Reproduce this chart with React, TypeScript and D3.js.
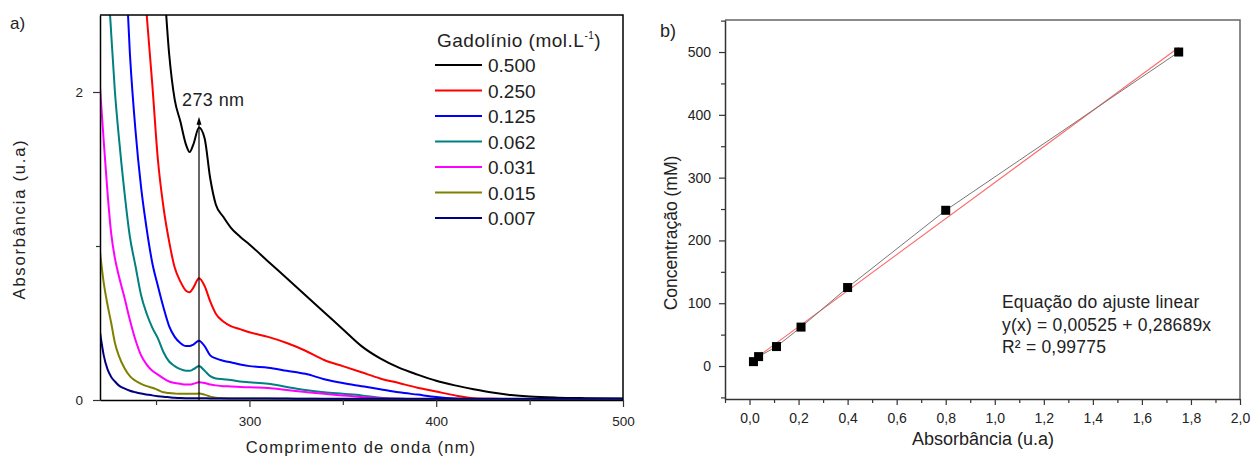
import * as d3 from 'd3';
import React, { useRef, useEffect } from 'react';

// wavelength grid (nm) shared by all spectra
const wavelengths = [220, 222, 224, 226, 228, 230, 233, 236, 239, 242, 245, 248, 251, 254, 257, 260, 263, 266, 268, 270, 273, 276, 279, 282, 286, 290, 295, 300, 310, 320, 330, 340, 350, 360, 370, 380, 390, 400, 410, 420, 430, 440, 450, 465, 480, 500];

const abs0500 = [4, 4, 4, 4, 4, 4, 4, 4, 4, 4, 4, 3.6, 3.2, 2.75, 2.25, 1.95, 1.81, 1.66, 1.61, 1.66, 1.77, 1.70, 1.44, 1.27, 1.19, 1.12, 1.06, 1.01, 0.90, 0.79, 0.68, 0.57, 0.46, 0.35, 0.27, 0.21, 0.165, 0.125, 0.095, 0.07, 0.048, 0.032, 0.022, 0.015, 0.012, 0.01];
const abs0250 = [4, 4, 4, 4, 4, 4, 4, 4, 3.5, 3.0, 2.5, 2.05, 1.56, 1.25, 1.03, 0.86, 0.77, 0.71, 0.70, 0.73, 0.79, 0.74, 0.64, 0.56, 0.51, 0.48, 0.46, 0.44, 0.41, 0.37, 0.32, 0.26, 0.22, 0.18, 0.14, 0.11, 0.08, 0.055, 0.03, 0.012, 0.008, 0.006, 0.005, 0.005, 0.005, 0.005];
const abs0125 = [4, 4, 4, 4, 4, 4, 3.0, 2.25, 1.75, 1.38, 1.11, 0.89, 0.74, 0.60, 0.48, 0.41, 0.37, 0.35, 0.35, 0.36, 0.385, 0.35, 0.29, 0.27, 0.255, 0.245, 0.23, 0.22, 0.21, 0.19, 0.17, 0.135, 0.11, 0.09, 0.07, 0.05, 0.035, 0.02, 0.01, 0.006, 0.006, 0.006, 0.006, 0.006, 0.006, 0.006];
const abs0062 = [4, 3.4, 2.8, 2.38, 2.0, 1.72, 1.36, 1.06, 0.87, 0.68, 0.56, 0.47, 0.40, 0.31, 0.25, 0.22, 0.20, 0.19, 0.19, 0.20, 0.22, 0.19, 0.155, 0.14, 0.135, 0.13, 0.12, 0.115, 0.105, 0.085, 0.065, 0.05, 0.04, 0.03, 0.015, 0.008, 0.006, 0.006, 0.006, 0.006, 0.006, 0.006, 0.006, 0.006, 0.006, 0.006];
const abs0031 = [2.03, 1.68, 1.35, 1.08, 0.92, 0.81, 0.67, 0.52, 0.39, 0.29, 0.23, 0.19, 0.165, 0.14, 0.12, 0.11, 0.105, 0.10, 0.10, 0.105, 0.115, 0.11, 0.10, 0.095, 0.09, 0.088, 0.085, 0.082, 0.078, 0.065, 0.052, 0.04, 0.03, 0.02, 0.012, 0.008, 0.006, 0.006, 0.006, 0.006, 0.006, 0.006, 0.006, 0.006, 0.006, 0.006];
const abs0015 = [0.96, 0.76, 0.62, 0.50, 0.37, 0.29, 0.21, 0.155, 0.125, 0.105, 0.09, 0.08, 0.065, 0.05, 0.045, 0.042, 0.04, 0.04, 0.04, 0.04, 0.042, 0.035, 0.022, 0.015, 0.012, 0.01, 0.01, 0.01, 0.009, 0.008, 0.008, 0.007, 0.007, 0.006, 0.006, 0.006, 0.005, 0.005, 0.005, 0.005, 0.005, 0.005, 0.005, 0.005, 0.005, 0.005];
const abs0007 = [0.44, 0.29, 0.2, 0.15, 0.12, 0.095, 0.075, 0.06, 0.05, 0.042, 0.036, 0.03, 0.025, 0.021, 0.018, 0.015, 0.013, 0.012, 0.012, 0.012, 0.012, 0.011, 0.01, 0.01, 0.01, 0.01, 0.01, 0.01, 0.009, 0.009, 0.008, 0.008, 0.008, 0.008, 0.008, 0.008, 0.008, 0.008, 0.008, 0.008, 0.008, 0.008, 0.008, 0.008, 0.008, 0.008];

const seriesLabels = ['0.500', '0.250', '0.125', '0.062', '0.031', '0.015', '0.007'];
const seriesColors = ['#000000', '#ff0000', '#0000ff', '#008080', '#ff00ff', '#808000', '#000080'];
const seriesValues = [abs0500, abs0250, abs0125, abs0062, abs0031, abs0015, abs0007];

// calibration points (panel b)
const calAbsorbance = [0.016, 0.037, 0.11, 0.21, 0.40, 0.80, 1.75];
const calConcentration = [7, 15, 31, 62, 125, 248, 500];
const fitIntercept = 0.00525;
const fitSlope = 0.28689;

const FONT = 'Liberation Sans, Arial, sans-serif';

function App() {
  const ref = useRef(null);

  useEffect(() => {
    const svg = d3.select(ref.current);
    svg.selectAll('*').remove();

    // ---------- panel a ----------
    const xL = d3.scaleLinear().domain([220, 500]).range([100, 623]);
    const yL = d3.scaleLinear().domain([0, 2.5]).range([400, 15]);

    svg.append('defs').append('clipPath').attr('id', 'clipA')
      .append('rect').attr('x', 100).attr('y', 15).attr('width', 523).attr('height', 385);

    const line = d3.line<number>()
      .x((d, i) => xL(wavelengths[i]))
      .y(d => yL(d))
      .curve(d3.curveMonotoneX);

    const curves = svg.append('g').attr('clip-path', 'url(#clipA)');
    seriesValues.forEach((vals, k) => {
      curves.append('path')
        .attr('d', line(vals))
        .attr('fill', 'none')
        .attr('stroke', seriesColors[k])
        .attr('stroke-width', 2);
    });

    // 273 nm marker
    svg.append('line')
      .attr('x1', xL(273)).attr('x2', xL(273))
      .attr('y1', yL(0)).attr('y2', yL(1.8))
      .attr('stroke', '#000').attr('stroke-width', 1.2);
    svg.append('path')
      .attr('d', `M${xL(273)},${yL(1.84)} l-2.5,8 l5,0 z`)
      .attr('fill', '#000');
    svg.append('text')
      .attr('x', 182).attr('y', 106)
      .attr('font-family', FONT).attr('font-size', 18).attr('letter-spacing', 0.4)
      .attr('fill', '#222')
      .text('273 nm');

    // frame
    svg.append('path')
      .attr('d', `M100,15 H623 V400`)
      .attr('fill', 'none').attr('stroke', '#000').attr('stroke-width', 1.5);

    const gxA = svg.append('g').attr('transform', 'translate(0,400)')
      .call(d3.axisBottom(xL).tickValues([300, 400, 500]).tickSize(7).tickSizeOuter(0).tickPadding(9).tickFormat(d3.format('d')));
    svg.append('g').attr('transform', 'translate(0,400)')
      .call(d3.axisBottom(xL).tickValues([250, 350, 450]).tickSize(5).tickSizeOuter(0).tickFormat(() => ''))
      .select('.domain').remove();
    const gyA = svg.append('g').attr('transform', 'translate(100,0)')
      .call(d3.axisLeft(yL).tickValues([0, 2]).tickSize(7).tickSizeOuter(0).tickPadding(10).tickFormat(d3.format('d')));
    svg.append('g').attr('transform', 'translate(100,0)')
      .call(d3.axisLeft(yL).tickValues([1]).tickSize(4).tickSizeOuter(0).tickFormat(() => ''))
      .select('.domain').remove();
    [gxA, gyA].forEach(g => {
      g.select('.domain').attr('stroke', '#000').attr('stroke-width', 1.5);
      g.selectAll('.tick line').attr('stroke', '#000').attr('stroke-width', 1.2);
      g.selectAll('.tick text').attr('font-family', FONT).attr('font-size', 13.5).attr('fill', '#222');
    });

    svg.append('text')
      .attr('x', 361).attr('y', 453).attr('text-anchor', 'middle')
      .attr('font-family', FONT).attr('font-size', 16.5).attr('letter-spacing', 1.2)
      .attr('fill', '#222')
      .text('Comprimento de onda (nm)');
    svg.append('text')
      .attr('transform', 'translate(25,219) rotate(-90)').attr('text-anchor', 'middle')
      .attr('font-family', FONT).attr('font-size', 16.5).attr('letter-spacing', 1.8)
      .attr('fill', '#222')
      .text('Absorbância (u.a)');
    svg.append('text')
      .attr('x', 10).attr('y', 29)
      .attr('font-family', FONT).attr('font-size', 17).attr('fill', '#222')
      .text('a)');

    // legend
    const title = svg.append('text')
      .attr('x', 437).attr('y', 47)
      .attr('font-family', FONT).attr('font-size', 19).attr('letter-spacing', 0.5)
      .attr('fill', '#222');
    title.append('tspan').text('Gadolínio (mol.L');
    title.append('tspan').attr('font-size', 10).attr('dy', -8).text('-1');
    title.append('tspan').attr('dy', 8).text(')');

    seriesLabels.forEach((lab, k) => {
      const cy = 65 + k * 25.5;
      svg.append('line')
        .attr('x1', 435).attr('x2', 482).attr('y1', cy).attr('y2', cy)
        .attr('stroke', seriesColors[k]).attr('stroke-width', 2);
      svg.append('text')
        .attr('x', 488).attr('y', cy + 7)
        .attr('font-family', FONT).attr('font-size', 19)
        .attr('fill', '#222')
        .text(lab);
    });

    // ---------- panel b ----------
    const xR = d3.scaleLinear().domain([-0.1, 2.0]).range([725, 1240]);
    const yR = d3.scaleLinear().domain([-52.5, 551]).range([399, 20]);

    svg.append('path')
      .attr('d', `M725,20 H1240 V399`)
      .attr('fill', 'none').attr('stroke', '#666').attr('stroke-width', 1.5);

    const gxB = svg.append('g').attr('transform', 'translate(0,399)')
      .call(d3.axisBottom(xR).tickValues(d3.range(0, 11).map(i => i * 0.2)).tickSize(6).tickSizeOuter(0).tickPadding(8)
        .tickFormat(d => d3.format('.1f')(d as number).replace('.', ',')));
    svg.append('g').attr('transform', 'translate(0,399)')
      .call(d3.axisBottom(xR).tickValues(d3.range(0, 11).map(i => -0.1 + i * 0.2)).tickSize(4).tickSizeOuter(0).tickFormat(() => ''))
      .select('.domain').remove();
    const gyB = svg.append('g').attr('transform', 'translate(725,0)')
      .call(d3.axisLeft(yR).tickValues([0, 100, 200, 300, 400, 500]).tickSize(6).tickSizeOuter(0).tickPadding(8));
    svg.append('g').attr('transform', 'translate(725,0)')
      .call(d3.axisLeft(yR).tickValues([-50, 50, 150, 250, 350, 450, 550]).tickSize(4).tickSizeOuter(0).tickFormat(() => ''))
      .select('.domain').remove();
    [gxB, gyB].forEach(g => {
      g.select('.domain').attr('stroke', '#333').attr('stroke-width', 1.5);
      g.selectAll('.tick text').attr('font-family', FONT).attr('font-size', 14).attr('fill', '#222');
    });
    svg.selectAll('.tick line').attr('stroke', '#333').attr('stroke-width', 1.2);

    // linear fit (red) and connecting line (gray)
    const fitA = [calAbsorbance[0], calAbsorbance[calAbsorbance.length - 1]];
    svg.append('path')
      .attr('d', d3.line<number>().x(a => xR(a)).y(a => yR((fitIntercept + fitSlope * a) * 1000))(fitA))
      .attr('fill', 'none').attr('stroke', '#ff6a6a').attr('stroke-width', 1.1);
    svg.append('path')
      .attr('d', d3.line<number>().x(a => xR(a)).y((a, i) => yR(calConcentration[i]))(calAbsorbance))
      .attr('fill', 'none').attr('stroke', '#777').attr('stroke-width', 1);
    svg.append('g').selectAll('rect')
      .data(calAbsorbance)
      .enter()
      .append('rect')
      .attr('x', a => xR(a) - 4.5)
      .attr('y', (a, i) => yR(calConcentration[i]) - 4.5)
      .attr('width', 9).attr('height', 9)
      .attr('fill', '#000');

    const eq = svg.append('g')
      .attr('font-family', FONT).attr('font-size', 17.5).attr('letter-spacing', 0.2).attr('fill', '#222');
    eq.append('text').attr('x', 1002).attr('y', 308).text('Equação do ajuste linear');
    eq.append('text').attr('x', 1002).attr('y', 331).text(`y(x) = ${String(fitIntercept).replace('.', ',')} + ${String(fitSlope).replace('.', ',')}x`);
    eq.append('text').attr('x', 1002).attr('y', 353).text('R² = 0,99775');

    svg.append('text')
      .attr('x', 983).attr('y', 445).attr('text-anchor', 'middle')
      .attr('font-family', FONT).attr('font-size', 18).attr('fill', '#222')
      .text('Absorbância (u.a)');
    svg.append('text')
      .attr('transform', 'translate(677,233) rotate(-90)').attr('text-anchor', 'middle')
      .attr('font-family', FONT).attr('font-size', 17.5).attr('fill', '#222')
      .text('Concentração (mM)');
    svg.append('text')
      .attr('x', 660).attr('y', 37)
      .attr('font-family', FONT).attr('font-size', 18).attr('fill', '#222')
      .text('b)');
  });

  return (
    <div className="chart">
      <svg ref={ref} width={1252} height={457}
        style={{ position: 'absolute', left: 0, top: 0, background: '#fff' }}>
      </svg>
    </div>
  );
}

export default App;
